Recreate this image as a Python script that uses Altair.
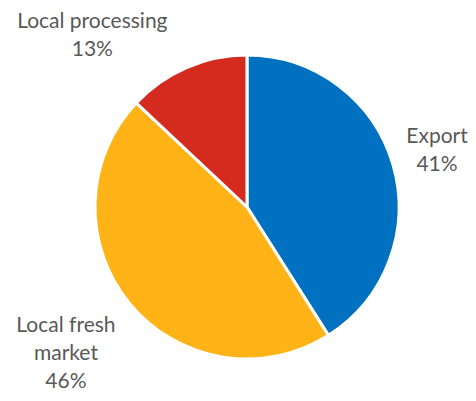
import altair as alt
import pandas as pd

categories = ["Export", "Local fresh market", "Local processing"]
values = [41, 46, 13]
label_lines = ["Export\n41%", "Local fresh\nmarket\n46%", "Local processing\n13%"]
colors = ["#0070C0", "#FFB317", "#D52B1F"]

df = pd.DataFrame({
    "category": categories,
    "value": values,
    "label": label_lines,
    "order": list(range(len(categories))),
})

CX, CY = 239, 199
TOTAL = sum(values)

pie = alt.Chart(df).mark_arc(outerRadius=152, stroke="white", strokeWidth=3).encode(
    theta=alt.Theta("value:Q", stack=True, scale=alt.Scale(domain=[0, TOTAL])),
    order=alt.Order("order:Q"),
    x=alt.value(CX),
    y=alt.value(CY),
    color=alt.Color("category:N", scale=alt.Scale(domain=categories, range=colors), legend=None),
)

text_base = alt.Chart(df).transform_window(
    cum="sum(value)", sort=[alt.SortField("order")], frame=[None, 0]
).transform_calculate(mid="datum.cum - datum.value / 2")

def lab(cat, r, dx=0, dy=0):
    return text_base.transform_filter(alt.datum.category == cat).mark_text(
        radius=r, dx=dx, dy=dy, lineBreak="\n", font="Lato", fontSize=21,
        color="#595959", align="center", baseline="middle", lineHeight=28,
    ).encode(
        theta=alt.Theta("mid:Q", stack=None, scale=alt.Scale(domain=[0, TOTAL])),
        x=alt.value(CX),
        y=alt.value(CY),
        text="label:N",
    )

chart = alt.layer(
    pie,
    lab("Export", 201, dx=-3, dy=-14),
    lab("Local fresh market", 235, dy=-31),
    lab("Local processing", 188, dx=-80, dy=-12),
).properties(
    width=460, height=385, autosize=alt.AutoSizeParams(type="none"), padding=0
).configure_view(stroke=None)

chart.save("out.html", embed_options={"renderer": "svg", "actions": False})
